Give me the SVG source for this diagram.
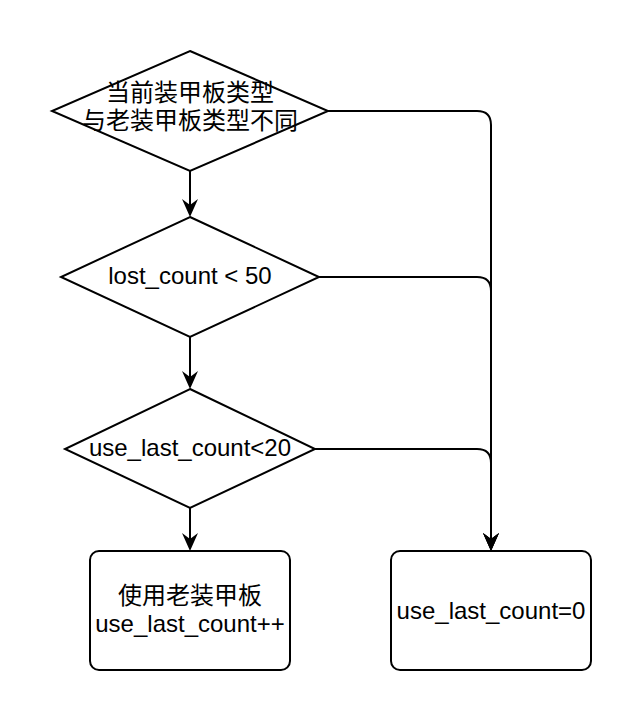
<svg xmlns="http://www.w3.org/2000/svg" width="642" height="722" viewBox="0 0 642 722">
<style>
.shape{fill:#ffffff;stroke:#000000;stroke-width:2}
.edge{fill:none;stroke:#000000;stroke-width:2}
.lbl{font-family:"Liberation Sans","Noto Sans CJK SC",Arial,sans-serif;font-size:24px;fill:#000000;text-anchor:middle}
</style>
<defs>
<marker id="arrow" markerUnits="userSpaceOnUse" markerWidth="20" markerHeight="18" refX="6" refY="8" orient="auto" overflow="visible">
<path d="M0,0 L18,8 L0,16 L6,8 Z" fill="#000000" stroke="none"/>
</marker>
</defs>
<rect width="642" height="722" fill="#ffffff"/>
<g id="connectors">
<path class="edge" d="M190,171 V205" marker-end="url(#arrow)"/>
<path class="edge" d="M190,337 V377" marker-end="url(#arrow)"/>
<path class="edge" d="M190,508 V539" marker-end="url(#arrow)"/>
<path class="edge" d="M328,111 H477 Q491,111 491,125 V539" marker-end="url(#arrow)"/>
<path class="edge" d="M319,277 H477 Q491,277 491,291 V539" marker-end="url(#arrow)"/>
<path class="edge" d="M315,449 H477 Q491,449 491,463 V539" marker-end="url(#arrow)"/>
</g>
<g id="node-decision1">
<path class="shape" d="M190,51 L328,111 L190,171 L52,111 Z"/>
<text class="lbl" x="190" y="101">当前装甲板类型</text>
<text class="lbl" x="190" y="129">与老装甲板类型不同</text>
</g>
<g id="node-decision2">
<path class="shape" d="M190,217 L319,277 L190,337 L61,277 Z"/>
<text class="lbl" x="190" y="284">lost_count &lt; 50</text>
</g>
<g id="node-decision3">
<path class="shape" d="M190,389 L315,449 L190,508 L65,449 Z"/>
<text class="lbl" x="190" y="456">use_last_count&lt;20</text>
</g>
<g id="node-use-old">
<rect class="shape" x="90" y="551" width="200" height="119" rx="9" ry="9"/>
<text class="lbl" x="190" y="604">使用老装甲板</text>
<text class="lbl" x="190" y="632">use_last_count++</text>
</g>
<g id="node-reset">
<rect class="shape" x="391" y="551" width="200" height="119" rx="9" ry="9"/>
<text class="lbl" x="491" y="619">use_last_count=0</text>
</g>
</svg>
